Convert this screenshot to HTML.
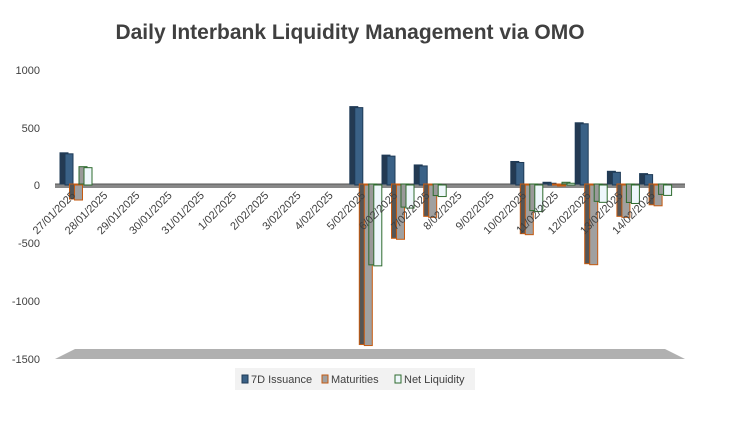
<!DOCTYPE html>
<html><head><meta charset="utf-8"><style>body{margin:0;background:#fff}svg{display:block;font-family:"Liberation Sans",sans-serif}</style></head><body>
<svg width="737" height="433" viewBox="0 0 737 433">
<text x="350" y="39" text-anchor="middle" font-size="21" font-weight="bold" fill="#404040">Daily Interbank Liquidity Management via OMO</text>
<g font-size="11" fill="#404040" text-anchor="end">
<text x="40" y="74">1000</text><text x="40" y="132">500</text><text x="40" y="189">0</text>
<text x="40" y="247">-500</text><text x="40" y="305">-1000</text><text x="40" y="363">-1500</text></g>
<polygon points="55,359 685,359 665,349 75,349" fill="#b0b0b0"/>
<rect x="55" y="184" width="630" height="4" fill="#888"/>
<line x1="55" y1="184" x2="685" y2="184" stroke="#555" stroke-width="1"/>
<g id="bars"></g>
<g id="labels" font-size="11" fill="#404040"></g>
<rect x="235" y="368" width="240" height="22" fill="#f2f2f2"/>
<rect x="242" y="375" width="6" height="8" fill="#3a6186" stroke="#1f3b57"/>
<text x="251" y="383" font-size="11" fill="#404040">7D Issuance</text>
<rect x="322" y="375" width="6" height="8" fill="#a0a0a0" stroke="#c55a11"/>
<text x="331" y="383" font-size="11" fill="#404040">Maturities</text>
<rect x="395" y="375" width="6" height="8" fill="#eef7fb" stroke="#2e6b2e"/>
<text x="404" y="383" font-size="11" fill="#404040">Net Liquidity</text>
</svg>
<script>
var d=["27/01/2025","28/01/2025","29/01/2025","30/01/2025","31/01/2025","1/02/2025","2/02/2025","3/02/2025","4/02/2025","5/02/2025","6/02/2025","7/02/2025","8/02/2025","9/02/2025","10/02/2025","11/02/2025","12/02/2025","13/02/2025","14/02/2025"];
var v={0:[270,-130,150],9:[670,-1390,-700],10:[250,-470,-200],11:[165,-280,-100],14:[195,-430,-230],15:[15,-5,15],16:[530,-690,-150],17:[110,-280,-160],18:[90,-180,-90]};
var ns="http://www.w3.org/2000/svg",b=document.getElementById("bars"),l=document.getElementById("labels");
function r(x,y,w,h,f,s){var e=document.createElementNS(ns,"rect");e.setAttribute("x",x);e.setAttribute("y",y);e.setAttribute("width",w);e.setAttribute("height",Math.max(h,1));e.setAttribute("fill",f);e.setAttribute("stroke",s);b.appendChild(e);}
var Y0=185,k=0.1155;
var st=[["#3a6186","#1f3b57","#243a52"],["#a0a0a0","#c55a11","#555"],["#eef7fb","#2e6b2e","#999"]];
d.forEach(function(t,i){var c=70+i*32.2;
var tx=document.createElementNS(ns,"text");tx.setAttribute("x",c+6);tx.setAttribute("y",196);tx.setAttribute("text-anchor","end");tx.setAttribute("transform","rotate(-45 "+(c+6)+" 196)");tx.textContent=t;l.appendChild(tx);
if(v[i])v[i].forEach(function(val,j){var x=c-8+j*9.5;var h=Math.abs(val)*k;var y=val>0?Y0-h:Y0;
r(x-2,y-1,8,h,st[j][2],st[j][1]);r(x+3,y,8,h,st[j][0],st[j][1]);});
});
</script>
</body></html>
